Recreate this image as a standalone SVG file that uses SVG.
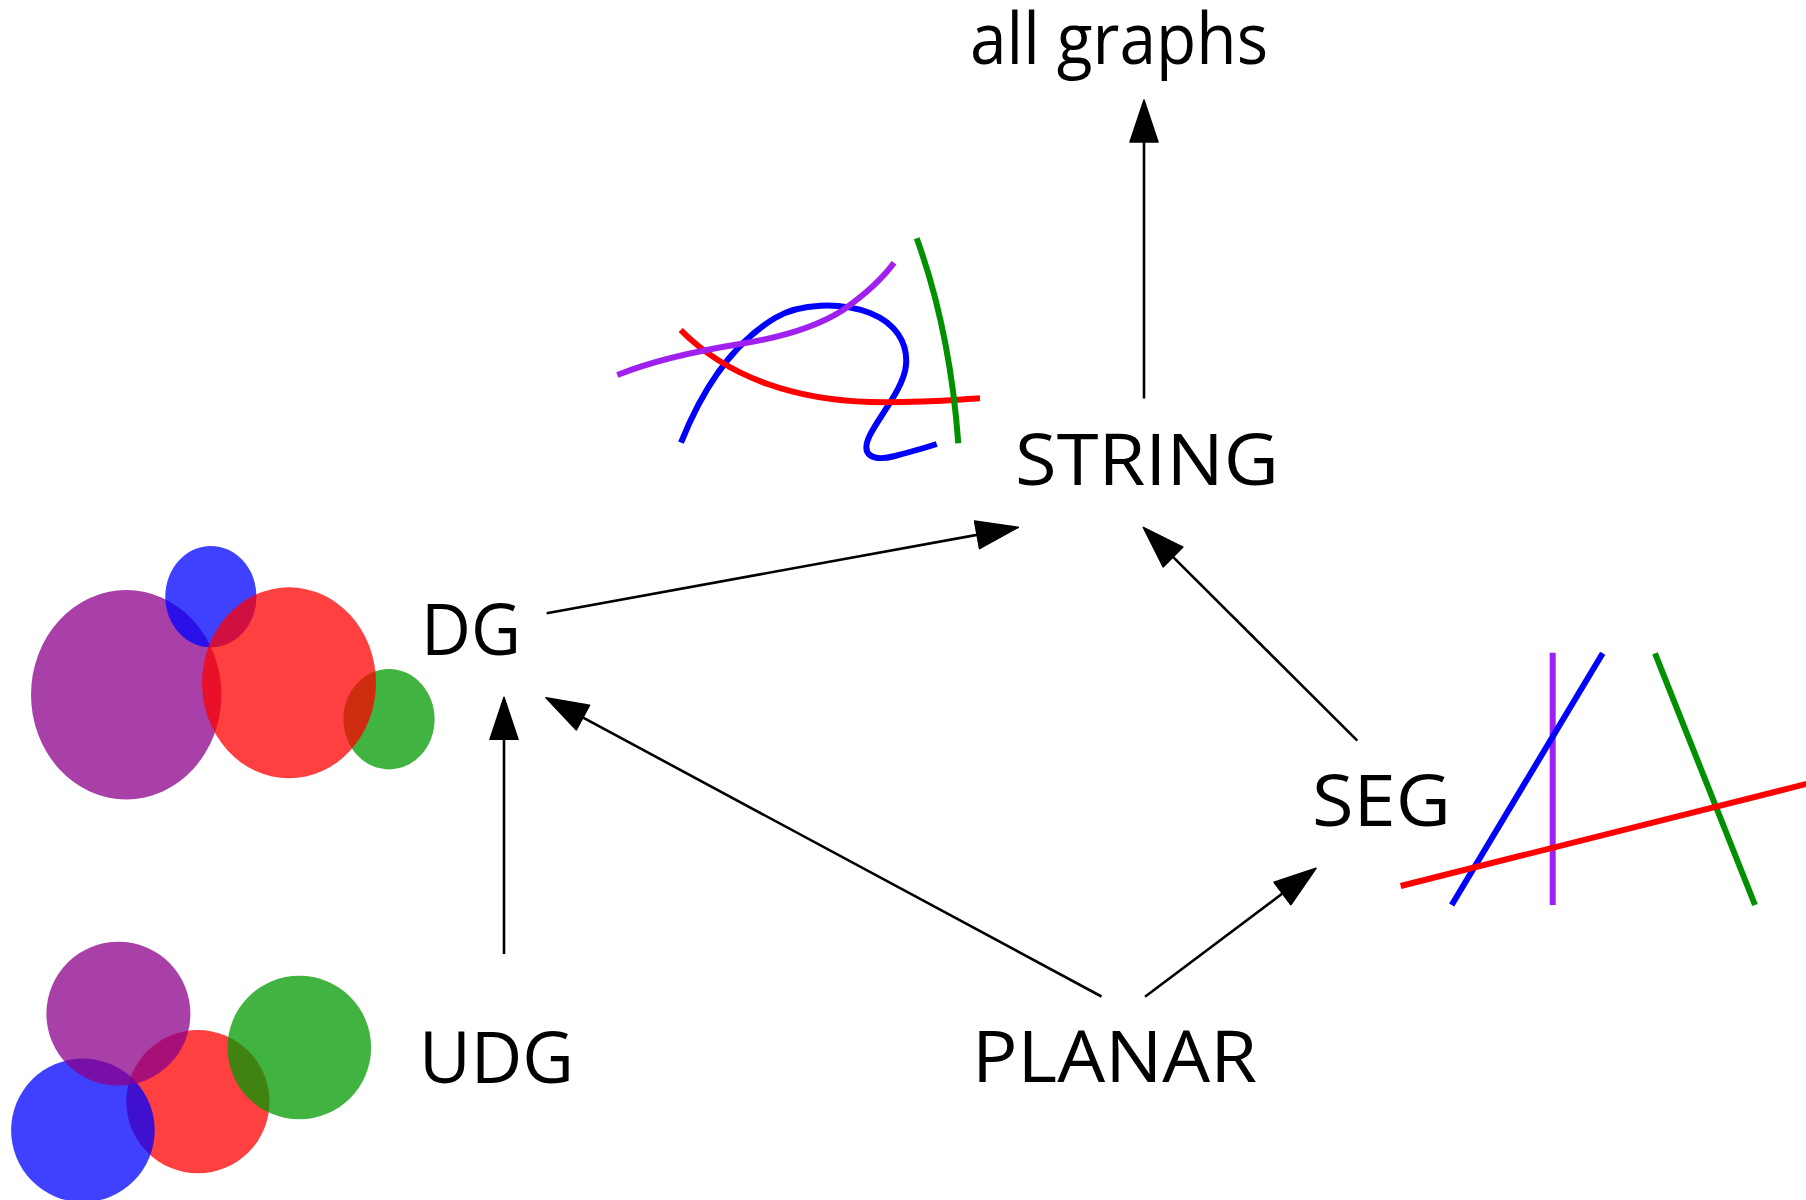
<svg xmlns="http://www.w3.org/2000/svg" width="1806" height="1200" viewBox="0 0 1806 1200">
<style>
  .lbl { font-family: "Open Sans", "DejaVu Sans", sans-serif; font-size: 71px; font-weight: 370; fill: #000; }
  .edge { stroke: #000; stroke-width: 2.6; fill: none; marker-end: url(#ah); }
  .c { fill-opacity: 0.75; stroke: none; }
  .s { fill: none; stroke-width: 6; }
</style>
<defs>
  <marker id="ah" markerUnits="userSpaceOnUse" markerWidth="44" markerHeight="30" viewBox="0 0 44 30" refX="33" refY="15" orient="auto">
    <path d="M1,1 L43,15 L1,29 Z" fill="#000" stroke="#000" stroke-width="1.5" stroke-linejoin="round"/>
  </marker>
</defs>
<rect width="1806" height="1200" fill="#fff"/>

<g id="connectors">
  <line class="edge" x1="546.7" y1="613.3" x2="1008.5" y2="529.1"/>
  <line class="edge" x1="504" y1="954" x2="504" y2="707.3"/>
  <line class="edge" x1="1101.5" y1="996.5" x2="554.8" y2="702.4"/>
  <line class="edge" x1="1145" y1="996.7" x2="1308" y2="874.3"/>
  <line class="edge" x1="1357.3" y1="740.7" x2="1150.4" y2="534.4"/>
  <line class="edge" x1="1144" y1="398.5" x2="1144" y2="110"/>
</g>

<g id="all-graphs"><text class="lbl" x="970" y="64" textLength="298" lengthAdjust="spacingAndGlyphs">all graphs</text></g>

<g id="string">
  <text class="lbl" x="1015" y="485" textLength="264" lengthAdjust="spacingAndGlyphs">STRING</text>
  <g id="string-drawing">
    <path class="s" stroke="#0000FF" d="M681,442.7 C700,395 730,345 775,318 C800,303 840,302 870,313 C895,323 908,342 906,365 C904,388 880,415 870,435 C860,455 872,462 895,456 C910,452 925,448 936.7,444"/>
    <path class="s" stroke="#FF0000" d="M680.7,330 C730,380 800,400 870,402 C920,403 950,400 980,398.3"/>
    <path class="s" stroke="#A020F0" d="M617.3,375 C650,362 690,352 740,344 C790,336 820,325 843,310 C860,298 880,282 894,262.7"/>
    <path class="s" stroke="#009000" d="M916.7,238.3 Q950,330 958.3,443.3"/>
  </g>
</g>

<g id="dg">
  <text class="lbl" x="421" y="655" textLength="100" lengthAdjust="spacingAndGlyphs">DG</text>
  <g id="dg-drawing">
    <ellipse class="c" fill="#8B008B" cx="126.2" cy="694.7" rx="95.2" ry="104.7"/>
    <ellipse class="c" fill="#0000FF" cx="210.9" cy="596.7" rx="45.6" ry="50.7"/>
    <ellipse class="c" fill="#009900" cx="389" cy="719.2" rx="45.6" ry="50.2"/>
    <ellipse class="c" fill="#FF0000" cx="289" cy="682.8" rx="87" ry="95.5"/>
  </g>
</g>

<g id="udg">
  <text class="lbl" x="419" y="1083" textLength="155" lengthAdjust="spacingAndGlyphs">UDG</text>
  <g id="udg-drawing">
    <circle class="c" fill="#FF0000" cx="197.9" cy="1101.7" r="71.6"/>
    <circle class="c" fill="#009900" cx="299.3" cy="1047.5" r="71.8"/>
    <circle class="c" fill="#0000FF" cx="82.9" cy="1130.3" r="71.8"/>
    <circle class="c" fill="#8B008B" cx="118.4" cy="1013.7" r="72"/>
  </g>
</g>

<g id="planar"><text class="lbl" x="972" y="1082" textLength="285" lengthAdjust="spacingAndGlyphs">PLANAR</text></g>

<g id="seg">
  <text class="lbl" x="1312" y="826" textLength="139" lengthAdjust="spacingAndGlyphs">SEG</text>
  <g id="seg-drawing">
    <line class="s" stroke="#A020F0" x1="1552.7" y1="652.7" x2="1552.7" y2="905"/>
    <line class="s" stroke="#0000FF" x1="1602.7" y1="653.3" x2="1451.7" y2="905"/>
    <line class="s" stroke="#009000" x1="1655" y1="653.3" x2="1755" y2="905"/>
    <line class="s" stroke="#FF0000" x1="1400.7" y1="886" x2="1810" y2="783"/>
  </g>
</g>
</svg>
